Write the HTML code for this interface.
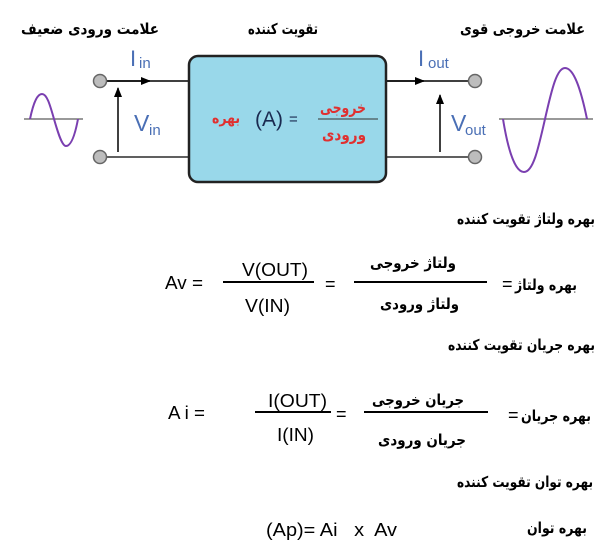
<!DOCTYPE html>
<html><head><meta charset="utf-8"><style>
html,body{margin:0;padding:0;background:#fff}
svg{display:block}
.fa{font-family:"DejaVu Sans","Liberation Sans",sans-serif;font-size:15px;font-weight:bold;fill:#000}
.la{font-family:"Liberation Sans",sans-serif;font-size:18px;fill:#000}
.bl{font-family:"Liberation Sans",sans-serif;fill:#4a6fb5}
</style></head><body>
<svg width="605" height="559" viewBox="0 0 605 559" xmlns="http://www.w3.org/2000/svg">
<defs><marker id="ah" markerWidth="10" markerHeight="8" refX="9" refY="4" orient="auto" markerUnits="userSpaceOnUse"><path d="M0,0 L10,4 L0,8 z" fill="#000"/></marker></defs>
<text class="fa" x="159" y="34" text-anchor="end" textLength="138" lengthAdjust="spacingAndGlyphs">علامت ورودی ضعیف</text>
<text class="fa" x="318" y="34" text-anchor="end" textLength="70" lengthAdjust="spacingAndGlyphs">تقویت کننده</text>
<text class="fa" x="585" y="34" text-anchor="end" textLength="125" lengthAdjust="spacingAndGlyphs">علامت خروجی قوی</text>
<line x1="100" y1="81" x2="188" y2="81" stroke="#000" stroke-width="1.5"/>
<line x1="100" y1="81" x2="150" y2="81" stroke="#000" stroke-width="1.5" marker-end="url(#ah)"/>
<line x1="100" y1="157" x2="188" y2="157" stroke="#000" stroke-width="1.2"/>
<line x1="387" y1="81" x2="475" y2="81" stroke="#000" stroke-width="1.5"/>
<line x1="387" y1="81" x2="424" y2="81" stroke="#000" stroke-width="1.5" marker-end="url(#ah)"/>
<line x1="387" y1="157" x2="475" y2="157" stroke="#000" stroke-width="1.2"/>
<line x1="118" y1="152" x2="118" y2="88" stroke="#000" stroke-width="1.5" marker-end="url(#ah)"/>
<line x1="440" y1="152" x2="440" y2="95" stroke="#000" stroke-width="1.5" marker-end="url(#ah)"/>
<circle cx="100" cy="81" r="6.5" fill="#bdbdbd" stroke="#666" stroke-width="1.5"/>
<circle cx="100" cy="157" r="6.5" fill="#bdbdbd" stroke="#666" stroke-width="1.5"/>
<circle cx="475" cy="81" r="6.5" fill="#bdbdbd" stroke="#666" stroke-width="1.5"/>
<circle cx="475" cy="157" r="6.5" fill="#bdbdbd" stroke="#666" stroke-width="1.5"/>
<rect x="189" y="56" width="197" height="126" rx="9" fill="#99d8ea" stroke="#222" stroke-width="2.5"/>
<text x="212" y="123" font-family="DejaVu Sans,sans-serif" font-size="15" font-weight="bold" fill="#e03030" textLength="28" lengthAdjust="spacingAndGlyphs">بهره</text>
<text x="255" y="126" font-family="Liberation Sans,sans-serif" font-size="21" fill="#1a2a50">(A)</text>
<text x="289" y="124" font-family="Liberation Sans,sans-serif" font-size="15" fill="#1a2a50">=</text>
<line x1="318" y1="119" x2="378" y2="119" stroke="#333" stroke-width="1"/>
<text x="320" y="113" font-family="DejaVu Sans,sans-serif" font-size="16" font-weight="bold" fill="#e03030" textLength="46" lengthAdjust="spacingAndGlyphs">خروجی</text>
<text x="322" y="140" font-family="DejaVu Sans,sans-serif" font-size="16" font-weight="bold" fill="#e03030" textLength="44" lengthAdjust="spacingAndGlyphs">ورودی</text>
<text class="bl" x="130" y="66" font-size="22" font-family="Liberation Serif,serif">I</text><text class="bl" x="139" y="68" font-size="15">in</text>
<text class="bl" x="134" y="131" font-size="23">V</text><text class="bl" x="149" y="135" font-size="15" fill="#7aaede">in</text>
<text class="bl" x="418" y="66" font-size="22" font-family="Liberation Serif,serif">I</text><text class="bl" x="428" y="68" font-size="15">out</text>
<text class="bl" x="451" y="131" font-size="23">V</text><text class="bl" x="465" y="135" font-size="15">out</text>
<line x1="24" y1="119" x2="83" y2="119" stroke="#333" stroke-width="1"/>
<path d="M30,119 C34,100 38,94 42,94 C47,94 50,105 54,119 C58,133 62,146 66,146 C71,146 75,135 78,119" fill="none" stroke="#7a3fb0" stroke-width="2"/>
<line x1="499" y1="119" x2="593" y2="119" stroke="#333" stroke-width="1"/>
<path d="M503,119 C508,150 515,172 524,172 C533,172 538,150 545,119 C552,88 557,68 565,68 C574,68 581,90 587,119" fill="none" stroke="#7a3fb0" stroke-width="2"/>
<text class="fa" x="595" y="224" text-anchor="end" textLength="138" lengthAdjust="spacingAndGlyphs">بهره ولتاژ تقویت کننده</text>
<text class="la" x="165" y="289" textLength="38" lengthAdjust="spacingAndGlyphs">Av =</text>
<text class="la" x="242" y="276" textLength="66" lengthAdjust="spacingAndGlyphs">V(OUT)</text>
<line x1="223" y1="282" x2="314" y2="282" stroke="#000" stroke-width="2"/>
<text class="la" x="245" y="312" textLength="45" lengthAdjust="spacingAndGlyphs">V(IN)</text>
<text class="la" x="325" y="290">=</text>
<line x1="354" y1="282" x2="487" y2="282" stroke="#000" stroke-width="2"/>
<text class="fa" x="456" y="268" text-anchor="end" textLength="86" lengthAdjust="spacingAndGlyphs">ولتاژ خروجی</text>
<text class="fa" x="459" y="309" text-anchor="end" textLength="79" lengthAdjust="spacingAndGlyphs">ولتاژ ورودی</text>
<text class="la" x="502" y="290">=</text>
<text class="fa" x="577" y="290" text-anchor="end" textLength="62" lengthAdjust="spacingAndGlyphs">بهره ولتاژ</text>
<text class="fa" x="595" y="350" text-anchor="end" textLength="147" lengthAdjust="spacingAndGlyphs">بهره جریان تقویت کننده</text>
<text class="la" x="168" y="419" textLength="37" lengthAdjust="spacingAndGlyphs">A i =</text>
<text class="la" x="268" y="407" textLength="59" lengthAdjust="spacingAndGlyphs">I(OUT)</text>
<line x1="255" y1="412" x2="331" y2="412" stroke="#000" stroke-width="2"/>
<text class="la" x="277" y="441" textLength="37" lengthAdjust="spacingAndGlyphs">I(IN)</text>
<text class="la" x="336" y="420">=</text>
<line x1="364" y1="412" x2="488" y2="412" stroke="#000" stroke-width="2"/>
<text class="fa" x="464" y="405" text-anchor="end" textLength="92" lengthAdjust="spacingAndGlyphs">جریان خروجی</text>
<text class="fa" x="466" y="445" text-anchor="end" textLength="88" lengthAdjust="spacingAndGlyphs">جریان ورودی</text>
<text class="la" x="508" y="421">=</text>
<text class="fa" x="591" y="421" text-anchor="end" textLength="70" lengthAdjust="spacingAndGlyphs">بهره جریان</text>
<text class="fa" x="593" y="487" text-anchor="end" textLength="136" lengthAdjust="spacingAndGlyphs">بهره توان تقویت کننده</text>
<text class="la" x="266" y="536" textLength="131" lengthAdjust="spacingAndGlyphs" xml:space="preserve">(Ap)= Ai   x  Av</text>
<text class="fa" x="587" y="533" text-anchor="end" textLength="60" lengthAdjust="spacingAndGlyphs">بهره توان</text>
</svg>
</body></html>
